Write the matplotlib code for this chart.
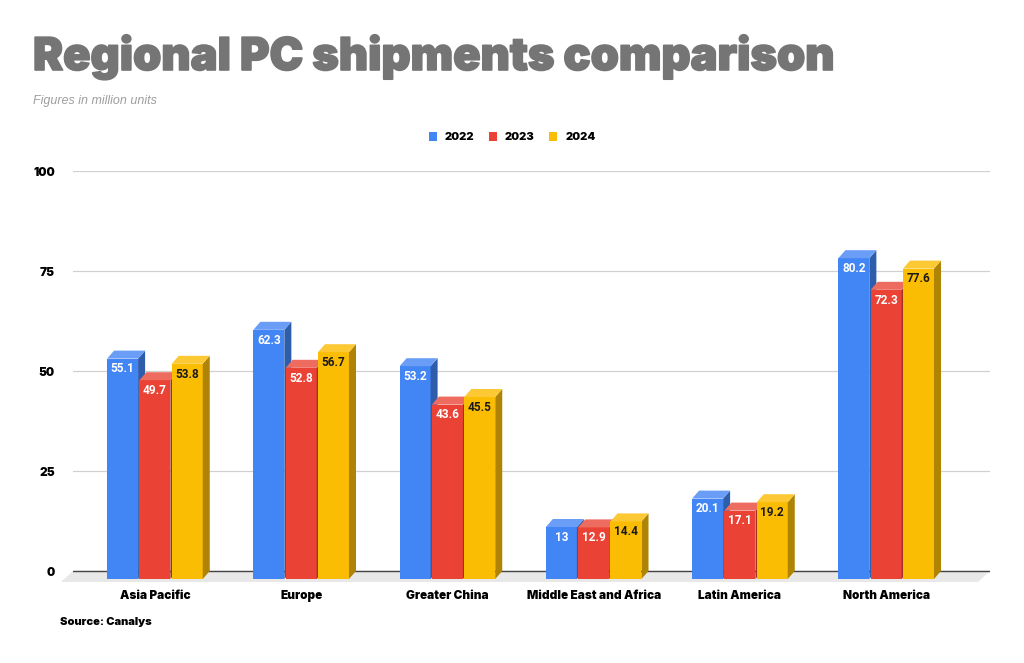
import matplotlib.pyplot as plt
from matplotlib.patches import Polygon, Patch
import matplotlib.patheffects as pe

# data
regions = ['Asia Pacific', 'Europe', 'Greater China', 'Middle East and Africa',
           'Latin America', 'North America']
years = ['2022', '2023', '2024']
v2022 = [55.1, 62.3, 53.2, 13, 20.1, 80.2]
v2023 = [49.7, 52.8, 43.6, 12.9, 17.1, 72.3]
v2024 = [53.8, 56.7, 45.5, 14.4, 19.2, 77.6]
yticks = [0, 25, 50, 75, 100]

series = [v2022, v2023, v2024]
front = ['#4285F4', '#EA4335', '#FBBC04']
side = ['#2E5DAB', '#A32F25', '#AF8303']
top = ['#6A9EF6', '#EE6B5F', '#FCC935']
txtcol = ['white', 'white', '#1a1a1a']

heavy = 'Inter'

fig = plt.figure(figsize=(10.24, 6.63), dpi=100)
ax = fig.add_axes([73/1024, (663-587)/663, 917/1024, 416/663])
ax.set_xlim(-0.56, 5.71)
ax.set_ylim(-4, 100)

bw = 0.212     # bar width (category units)
step = 0.221
dx = 0.048     # depth offset x
dy = 2.0       # depth offset y (value units)

# floor
fdx, fdy = 0.082, 2.75
xl, xr = -0.56, 5.71
ax.add_patch(Polygon([(xl, 0), (xr, 0), (xr - fdx, -fdy), (xl - fdx, -fdy)],
                     closed=True, facecolor='#e8e8e8', edgecolor='none',
                     zorder=1, clip_on=False))

for j, vals in enumerate(series):
    for i, v in enumerate(vals):
        x0 = i + (j - 1) * step - bw / 2
        x1 = x0 + bw
        yb, yt = -dy, v - dy
        z = 3 + j
        ax.add_patch(Polygon([(x0, yb), (x1, yb), (x1, yt), (x0, yt)],
                             facecolor=front[j], edgecolor='none', zorder=z))
        ax.add_patch(Polygon([(x1, yb), (x1 + dx, 0), (x1 + dx, v), (x1, yt)],
                             facecolor=side[j], edgecolor='none', zorder=z))
        ax.add_patch(Polygon([(x0, yt), (x1, yt), (x1 + dx, v), (x0 + dx, v)],
                             facecolor=top[j], edgecolor='none', zorder=z))
        ax.text((x0 + x1) / 2, yt - 2.6, f'{v:g}', ha='center', va='center',
                color=txtcol[j], fontsize=8.5, fontfamily='Roboto',
                fontweight='bold', zorder=10)

ax.set_yticks(yticks)
ax.set_yticklabels([str(t) for t in yticks], fontfamily=heavy,
                   fontweight='black', fontsize=8.5)
ax.set_xticks(range(len(regions)))
ax.set_xticklabels(regions, fontfamily=heavy, fontweight='black', fontsize=8.5)
ax.tick_params(axis='y', length=0, pad=13)
ax.tick_params(axis='x', length=0, pad=2)
ax.grid(axis='y', color='#d0d0d0', linewidth=0.9, zorder=0)
ax.set_axisbelow(True)
ax.axhline(0, color='#444444', linewidth=1.0, zorder=1.5)
for s in ax.spines.values():
    s.set_visible(False)

fig.text(33/1024, (663-70)/663, 'Regional PC shipments comparison',
         fontsize=32.5, fontfamily=heavy, fontweight='black', color='#757575',
         va='baseline', ha='left',
         path_effects=[pe.withStroke(linewidth=1.2, foreground='#757575')])
fig.text(33/1024, (663-101)/663, 'Figures in million units', fontsize=9,
         fontstyle='italic', fontfamily='Liberation Sans', color='#9e9e9e',
         va='center', ha='left')

handles = [Patch(facecolor=c, edgecolor='none') for c in front]
fig.legend(handles, years, loc='center', bbox_to_anchor=(0.5, (663-137)/663),
           ncol=3, frameon=False, handlelength=0.75, handleheight=0.9,
           handletextpad=0.7, columnspacing=1.3,
           prop={'family': heavy, 'weight': 'black', 'size': 8})

fig.text(60/1024, (663-622)/663, 'Source: Canalys', fontsize=8,
         fontfamily=heavy, fontweight='black', color='black',
         va='center', ha='left')

fig.savefig('out.png', dpi=100)
